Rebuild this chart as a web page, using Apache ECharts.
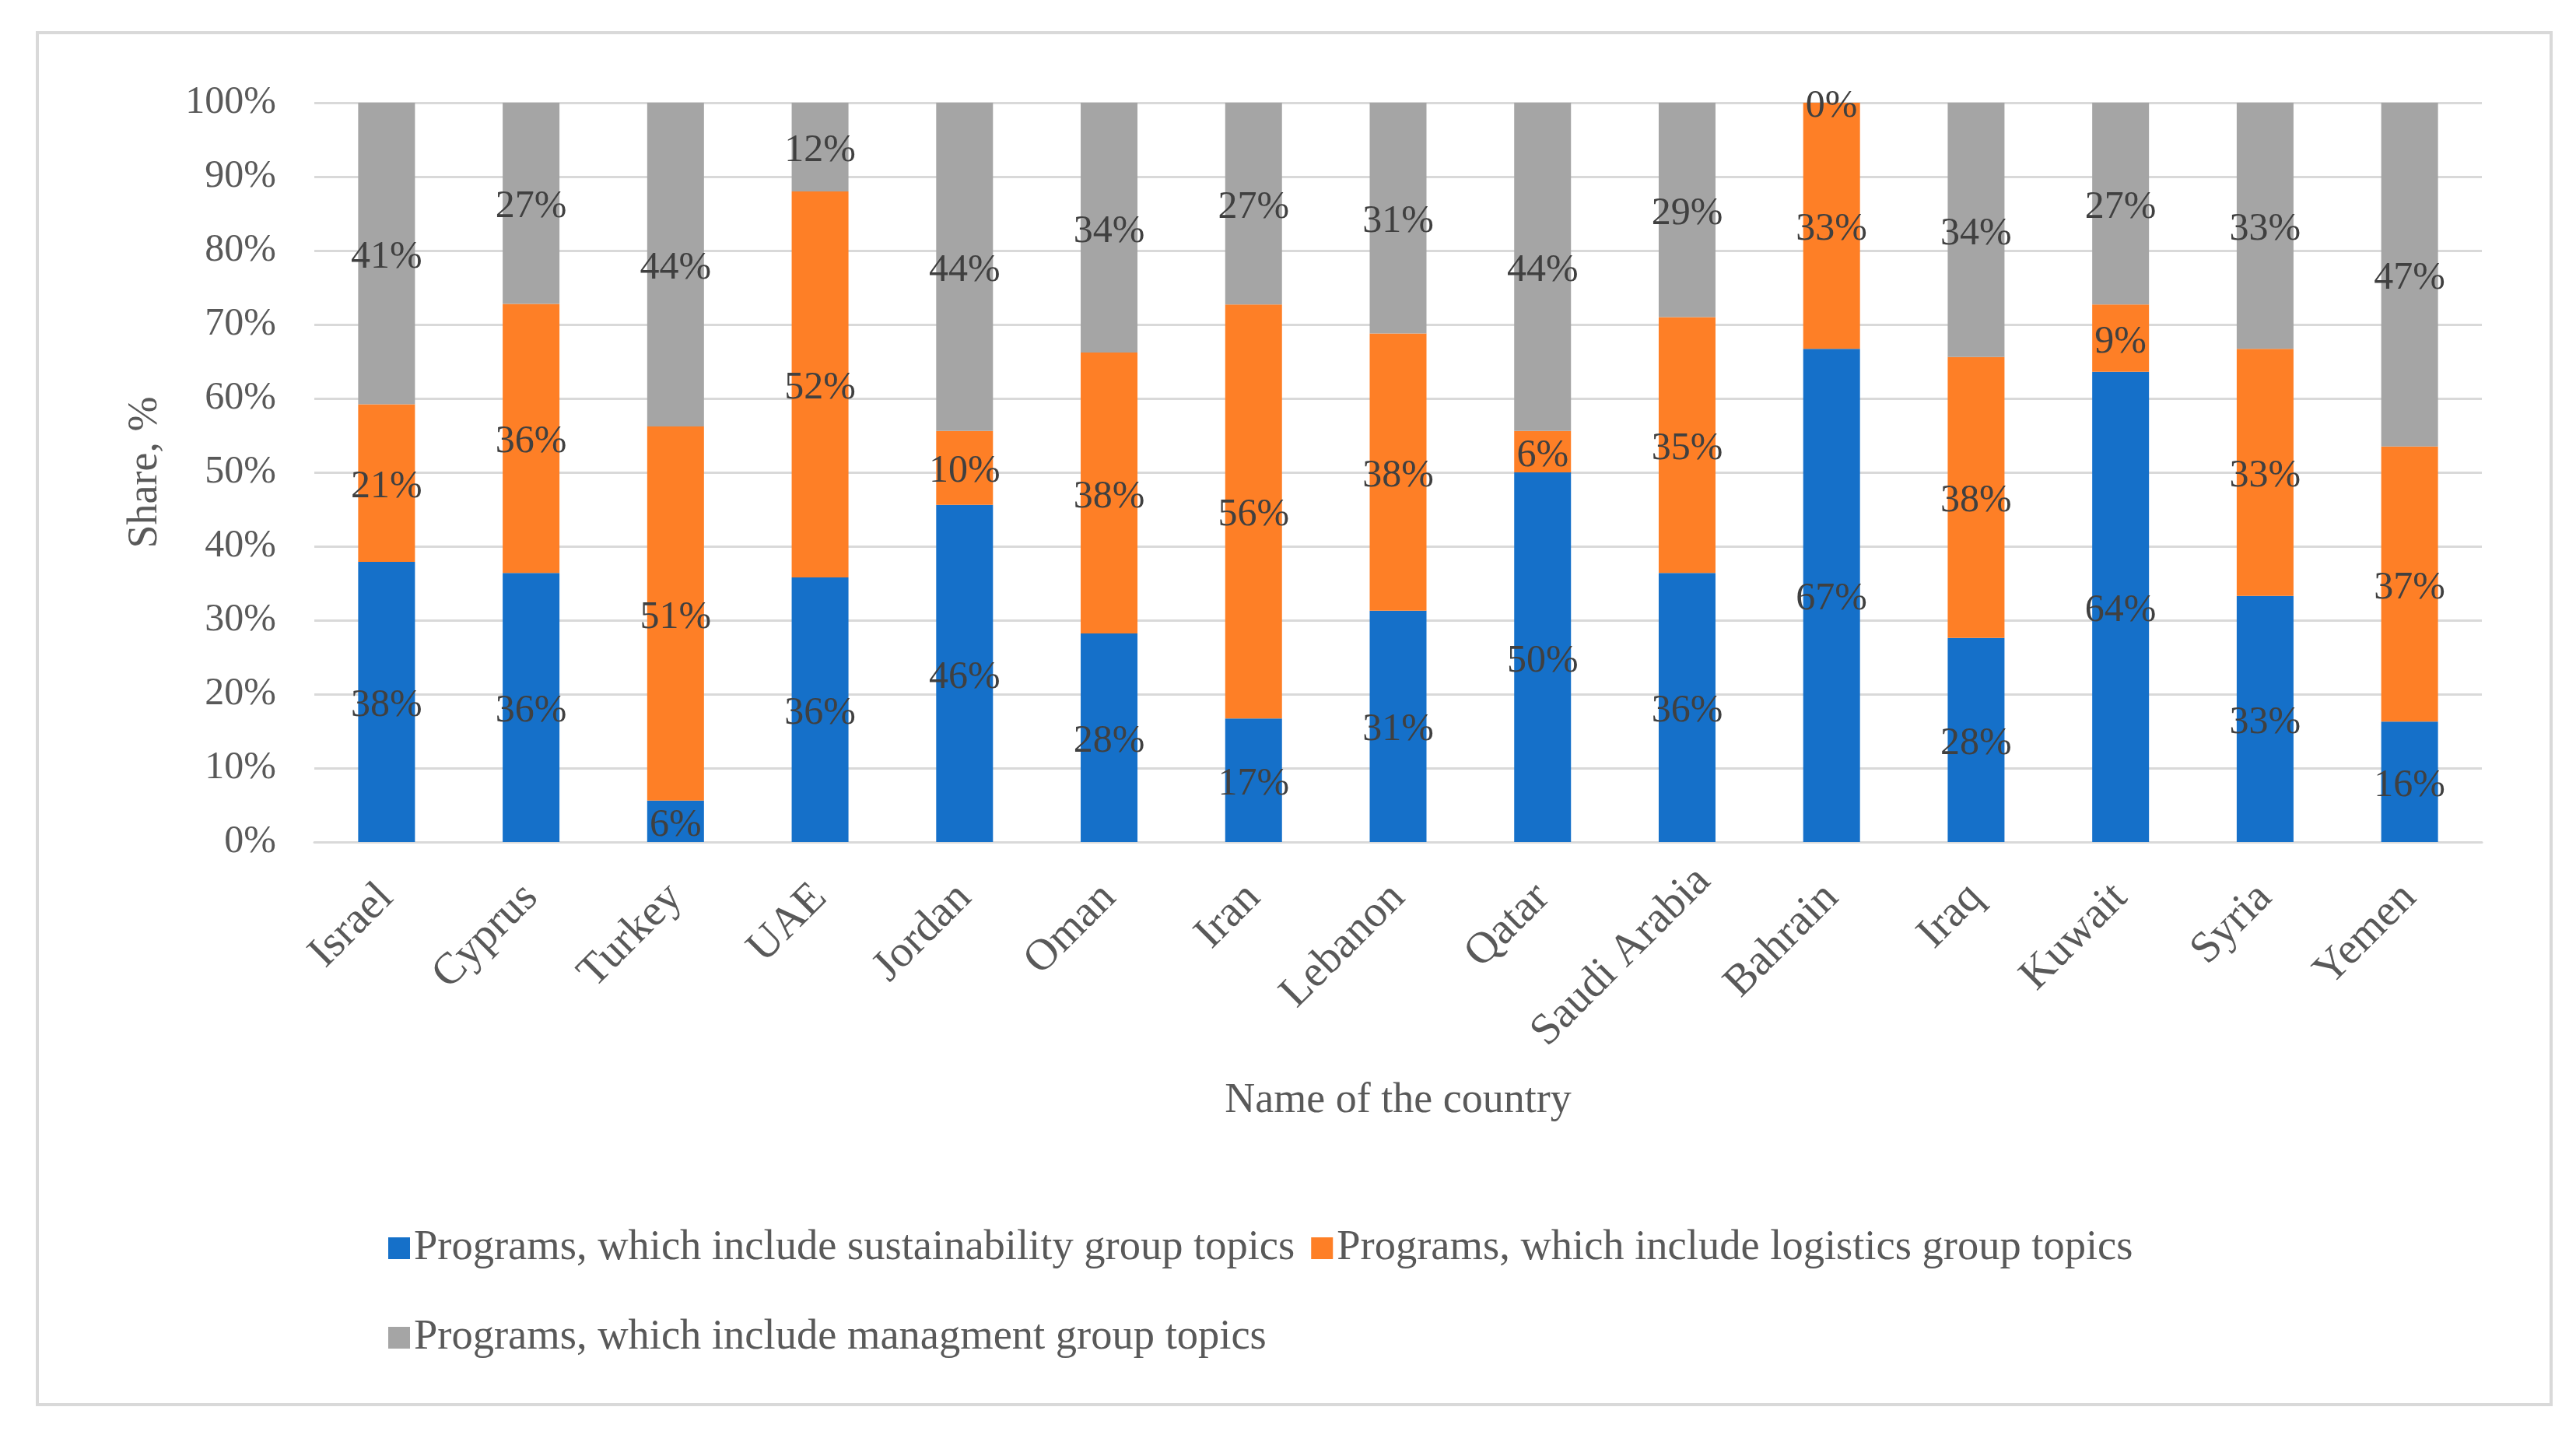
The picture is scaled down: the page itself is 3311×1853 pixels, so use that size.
<!DOCTYPE html>
<html>
<head>
<meta charset="utf-8">
<script src="https://cdn.jsdelivr.net/npm/echarts@6/dist/echarts.min.js"></script>
<style>
html,body{margin:0;padding:0;background:#fff;}
#chart{width:3311px;height:1853px;}
</style>
</head>
<body>
<div id="chart"></div>
<script>
var countries = ['Israel','Cyprus','Turkey','UAE','Jordan','Oman','Iran','Lebanon','Qatar','Saudi Arabia','Bahrain','Iraq','Kuwait','Syria','Yemen'];
var sustainability = [37.9, 36.4, 5.6, 35.8, 45.6, 28.2, 16.7, 31.3, 50.0, 36.4, 66.7, 27.6, 63.6, 33.3, 16.3];
var logistics = [21.3, 36.4, 50.6, 52.2, 10.0, 38.0, 56.0, 37.5, 5.6, 34.6, 33.3, 38.0, 9.1, 33.4, 37.2];
var management = [40.8, 27.2, 43.8, 12.0, 44.4, 33.8, 27.3, 31.2, 44.4, 29.0, 0, 34.4, 27.3, 33.3, 46.5];
var seriesNames = ['Programs, which include sustainability group topics','Programs, which include logistics group topics','Programs, which include managment group topics'];
var colors = ['#1570C9','#FE7F26','#A5A5A5'];

var FONT = 'Liberation Serif';
var chart = echarts.init(document.getElementById('chart'));
function mkSeries(name, data, color){
  return {
    name: name, type: 'bar', stack: 'total', data: data, barWidth: 73,
    itemStyle: {color: color},
    label: {show: true, position: 'inside', offset: [0, 5], fontFamily: FONT, fontSize: 50, color: '#404040',
      formatter: function(p){ return Math.round(p.value) + '%'; }},
    emphasis: {disabled: true}
  };
}
chart.setOption({
  animation: false,
  backgroundColor: '#fff',
  textStyle: {fontFamily: FONT},
  grid: {left: 404, right: 121, top: 132, bottom: 771, containLabel: false},
  graphic: [{type: 'rect', shape: {x: 48, y: 42, width: 3231, height: 1763}, style: {fill: 'none', stroke: '#D9D9D9', lineWidth: 4}, z: -1}],
  legend: [
    {data: [seriesNames[0], seriesNames[1]], left: 494, top: 1569, itemWidth: 28, itemHeight: 28, itemGap: 21,
     icon: 'rect', textStyle: {fontFamily: FONT, fontSize: 54.5, color: '#595959', lineHeight: 60}},
    {data: [seriesNames[2]], left: 494, top: 1684, itemWidth: 28, itemHeight: 28, itemGap: 21,
     icon: 'rect', textStyle: {fontFamily: FONT, fontSize: 54.5, color: '#595959', lineHeight: 60}}
  ],
  xAxis: {
    type: 'category', data: countries,
    name: 'Name of the country', nameLocation: 'middle', nameGap: 306,
    nameTextStyle: {fontFamily: FONT, fontSize: 54, color: '#595959'},
    axisLine: {lineStyle: {color: '#D9D9D9', width: 3}},
    axisTick: {show: false},
    axisLabel: {rotate: 45, margin: 63, fontFamily: FONT, fontSize: 57, color: '#595959', interval: 0,
      formatter: function(v){ return v.indexOf(' ') >= 0 ? '{s|' + v + '}' : v; },
      rich: {s: {fontFamily: FONT, fontSize: 57, color: '#595959', padding: [0, -30, 0, 0]}}}
  },
  yAxis: {
    type: 'value', min: 0, max: 100, interval: 10,
    name: 'Share, %', nameLocation: 'middle', nameGap: 190, nameRotate: 90,
    nameTextStyle: {fontFamily: FONT, fontSize: 54, color: '#595959'},
    axisLine: {show: false}, axisTick: {show: false},
    axisLabel: {formatter: '{value}%', margin: 49, fontFamily: FONT, fontSize: 50, color: '#595959'},
    splitLine: {lineStyle: {color: '#D9D9D9', width: 3}}
  },
  series: [
    mkSeries(seriesNames[0], sustainability, colors[0]),
    mkSeries(seriesNames[1], logistics, colors[1]),
    mkSeries(seriesNames[2], management, colors[2])
  ]
});
</script>
</body>
</html>
